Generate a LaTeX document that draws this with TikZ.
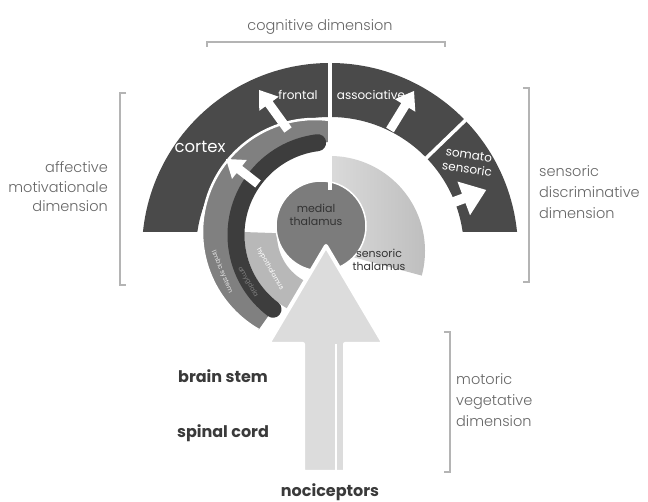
\documentclass[tikz,border=0pt]{standalone}
\usepackage{fontspec}
\setmainfont{Poppins}
\newfontfamily\lightfont{Poppins Light}
\usetikzlibrary{calc}
\definecolor{cortexc}{HTML}{4A4A4A}
\definecolor{limbicc}{HTML}{808080}
\definecolor{bandc}{HTML}{3D3D3D}
\definecolor{lightc}{HTML}{B8B8B8}
\definecolor{medialc}{HTML}{7C7C7C}
\definecolor{discA}{HTML}{DADADA}
\definecolor{discB}{HTML}{BDBDBD}
\definecolor{arrowc}{HTML}{DCDCDC}
\definecolor{dimc}{HTML}{666666}
\definecolor{boldc}{HTML}{3A3A3A}
\definecolor{darkc}{HTML}{333333}
\definecolor{bracketc}{HTML}{B4B4B4}
\begin{document}
\begin{tikzpicture}[x=1pt,y=1pt,
  dimtext/.style={text=dimc, font=\lightfont\fontsize{14.5}{19.5}\selectfont, inner sep=0pt},
  boldtext/.style={text=boldc, font=\bfseries\fontsize{16}{18}\selectfont, inner sep=0pt},
  whitetext/.style={text=white, font=\fontsize{12}{14}\selectfont, inner sep=0pt},
  darktext/.style={text=darkc, font=\fontsize{11}{13.5}\selectfont, inner sep=0pt, align=center},
  limbictext/.style={font=\fontsize{6.5}{7}\selectfont, inner sep=0pt},
  bracket/.style={draw=bracketc, line width=1.1pt},
  arrowfill/.style={fill=white, draw=none},
  pics/barrow/.style={code={
    \fill[arrowfill] (0,-4.5) -- ({#1-17},-4.5) -- ({#1-17},-12) -- (#1,0) -- ({#1-17},12) -- ({#1-17},4.5) -- (0,4.5) -- cycle;}},
  pics/bigbarrow/.style={code={
    \fill[arrowfill] (0,-5) -- ({#1-24},-5) -- ({#1-24},-18) -- (#1,0) -- ({#1-24},18) -- ({#1-24},5) -- (0,5) -- cycle;}}]

\fill[white] (0,0) rectangle (648,502);
\useasboundingbox (0,0) rectangle (648,502);

\coordinate (C) at (330,251);
\coordinate (L) at (315,270);
\coordinate (C2) at (329,267);
\coordinate (M) at (321,276);

% cortex
\begin{scope}
  \clip (0,270) rectangle (648,502);
  \fill[cortexc, even odd rule] (C) circle[radius=188pt] (C) circle[radius=134pt];
\end{scope}
\draw[white, line width=3.5pt] ($(C)+(44:128pt)$) -- ($(C)+(44:192pt)$);

% sensoric thalamus disc
\shade[left color=discA, right color=discB] (C) -- ($(C)+(-15:95pt)$) arc[start angle=-15, end angle=90, radius=95pt] -- cycle;

% limbic ring
\fill[limbicc] ($(L)+(82.4:113pt)$) arc[start angle=82.4, end angle=240, radius=113pt] -- ($(C2)+(233:93pt)$) arc[start angle=233, end angle=90, radius=93pt] -- cycle;
\draw[white, line width=2.5pt] ($(L)+(82.4:113pt)$) arc[start angle=82.4, end angle=240, radius=113pt];

% light band
\fill[lightc] ($(C2)+(178:84.5pt)$) arc[start angle=178, end angle=245, radius=84.5pt] -- ($(C2)+(245:52pt)$) arc[start angle=245, end angle=178, radius=52pt] -- cycle;

% dark band
\draw[bandc, line width=17pt, line cap=round] ($(C2)+(97:93pt)$) arc[start angle=97, end angle=233, radius=93pt];

% medial thalamus
\fill[medialc] (M) circle[radius=45pt];
\draw[white, line width=1.5pt] (M) circle[radius=45pt];

% vertical white separation
\draw[white, line width=4pt] (330,312) -- (330,448);

% limbic texts
\node[limbictext, text=white!82!gray, rotate=-67] (lim) at (222,230) {limbic system};
\node[limbictext, text=gray, rotate=-60] (amy) at (248,220) {amygdala};
\node[limbictext, text=white, rotate=-60] (hyp) at (270,233) {hypothalamus};

% block arrows into cortex
\pic[rotate=125.9] at (288,372) {barrow=49.4};
\pic[rotate=142] at (258,318) {barrow=40.6};
\pic[rotate=58.4] at (390,372) {barrow=45.8};
\pic[rotate=20.5] at (430,291) {bigbarrow=60};

% big ascending arrow
\filldraw[fill=arrowc, draw=white, line width=4pt, line join=round]
  (326,256) -- (384,158) -- (345,158) -- (345,30) -- (303,30) -- (303,158) -- (268,158) -- cycle;
\draw[white, line width=2.5pt] (336,158) -- (336,28);

% labels inside diagram
\node[whitetext] (fr) at (298,407) {frontal};
\node[whitetext] (as) at (371,407) {associative};
\node[whitetext, font=\fontsize{16.5}{18}\selectfont] (cx) at (200,355) {cortex};
\node[whitetext, align=center, rotate=-8, font=\fontsize{12}{14}\selectfont] (so) at (468,340) {somato\\sensoric};
\node[darktext] (md) at (316,287) {medial\\thalamus};
\node[darktext] (st) at (379,242) {sensoric\\thalamus};

% dimension labels and brackets
\node[dimtext] (cog) at (320,475) {cognitive dimension};
\draw[bracket] (207,455) -- (207,460) -- (445,460) -- (445,455);

\draw[bracket] (126,409) -- (120,409) -- (120,217) -- (126,217);
\node[dimtext, anchor=east, align=right] (aff) at (108,315) {affective\\motivationale\\dimension};

\draw[bracket] (523,414) -- (529,414) -- (529,220) -- (523,220);
\node[dimtext, anchor=west, align=left, font=\lightfont\fontsize{14.5}{21}\selectfont] (sen) at (539,310) {sensoric\\discriminative\\dimension};

\draw[bracket] (444,170) -- (450,170) -- (450,30) -- (444,30);
\node[dimtext, anchor=west, align=left, font=\lightfont\fontsize{14.5}{21}\selectfont] (mot) at (456,102) {motoric\\vegetative\\dimension};

\node[boldtext] (bs) at (223,126) {brain stem};
\node[boldtext] (sc) at (223,69) {spinal cord};
\node[boldtext] (noc) at (330,10) {nociceptors};
\end{tikzpicture}
\end{document}
